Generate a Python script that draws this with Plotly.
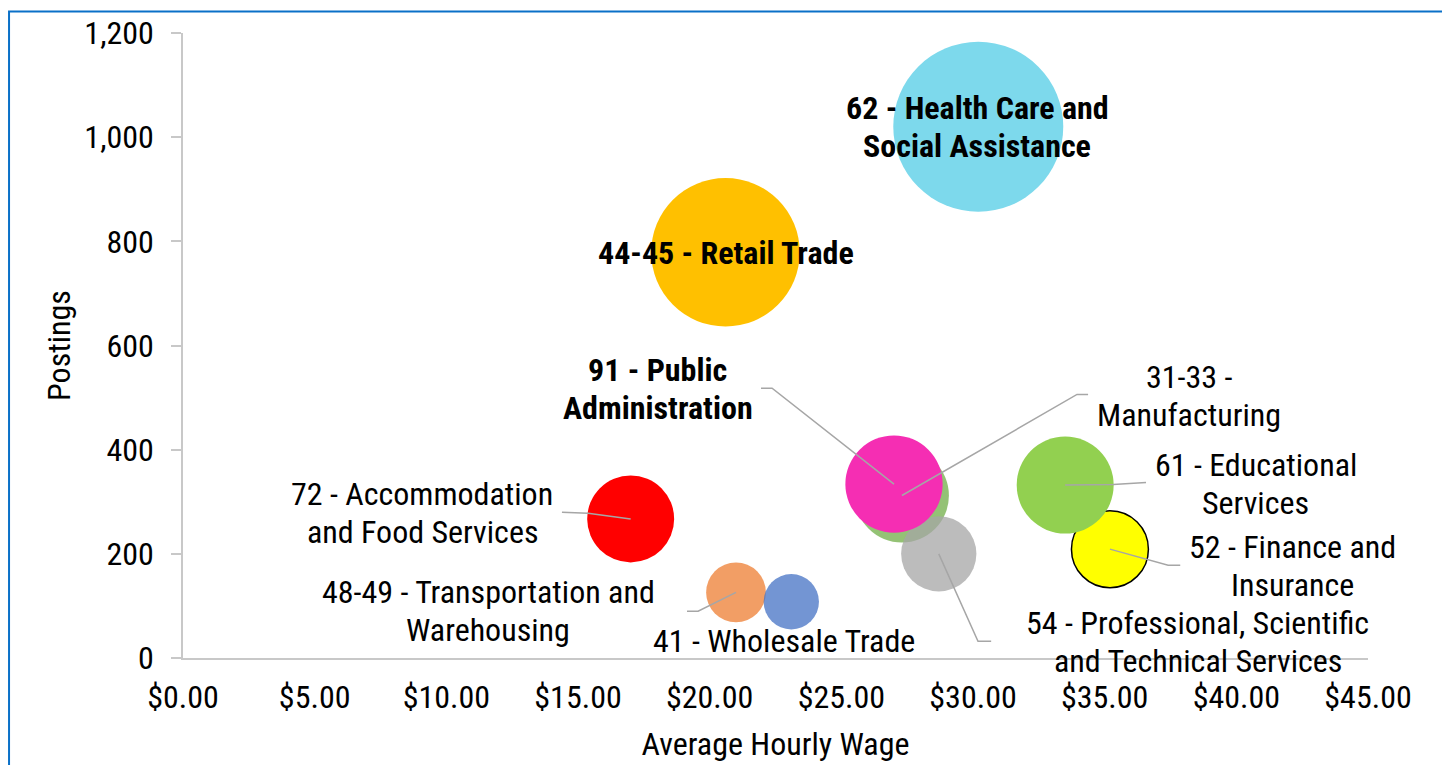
import plotly.graph_objects as go

# ---- data ----
industries = [
    "62 - Health Care and<br>Social Assistance",
    "44-45 - Retail Trade",
    "52 - Finance and<br>Insurance",
    "61 - Educational<br>Services",
    "31-33 -<br>Manufacturing",
    "54 - Professional, Scientific<br>and Technical Services",
    "91 - Public<br>Administration",
    "72 - Accommodation<br>and Food Services",
    "48-49 - Transportation and<br>Warehousing",
    "41 - Wholesale Trade",
]
avg_wage = [30.2, 20.6, 35.2, 33.5, 27.3, 28.7, 27.0, 17.0, 21.0, 23.1]
postings = [1020, 779, 209, 332, 312, 200, 334, 267, 126, 108]
bold = [True, True, False, False, False, False, True, False, False, False]

colors = ["#7DD9EC", "#FFC000", "#FFFF00", "#92D050", "rgba(112,173,71,0.75)",
          "rgba(165,165,165,0.75)", "#F52EB3", "#FF0000",
          "rgba(237,125,49,0.75)", "rgba(68,114,196,0.75)"]
outline = [0, 0, 1.5, 0, 0, 0, 0, 0, 0, 0]

# label anchor positions (data units) and leader-line elbows (None = no leader)
label_x = [30.16, 20.62, 42.12, 40.73, 38.21, 38.53, 18.02, 9.08, 11.60, 22.81]
label_y = [1019, 778, 176, 335, 504, 30, 516, 278, 90, 32]
leader_start = [None, None, (37.87, 178), (36.57, 337), (34.37, 506), (30.69, 32),
                (21.95, 518), (14.39, 280), (19.14, 90), None]
leader_elbow = [None, None, (37.41, 178), (35.32, 333), (33.95, 506), (30.19, 32),
                (22.37, 518), (15.38, 278), (19.56, 90), None]

FONT = "Roboto Condensed, Liberation Sans Narrow, Arial Narrow, DejaVu Sans Condensed, Roboto, sans-serif"
FS = 32
LINE_GAP = 38
max_diam = 170

fig = go.Figure()

fig.add_trace(go.Scatter(
    x=avg_wage, y=postings, mode="markers",
    marker=dict(size=postings, sizemode="area", sizeref=2 * max(postings) / max_diam ** 2,
                color=colors, line=dict(color="black", width=outline), opacity=1),
    hoverinfo="skip", showlegend=False,
))

# leader lines
for i in range(len(industries)):
    if leader_start[i] is None:
        continue
    xs = [leader_start[i][0], leader_elbow[i][0], avg_wage[i]]
    ys = [leader_start[i][1], leader_elbow[i][1], postings[i]]
    fig.add_trace(go.Scatter(x=xs, y=ys, mode="lines", line=dict(color="#A6A6A6", width=1.5),
                             hoverinfo="skip", showlegend=False))

# data labels, one annotation per text line for Excel-like line spacing
for i, name in enumerate(industries):
    lines = name.split("<br>")
    n = len(lines)
    for k, line in enumerate(lines):
        txt = f"<b>{line}</b>" if bold[i] else line
        fig.add_annotation(x=label_x[i], y=label_y[i], text=txt, showarrow=False,
                           xanchor="center", yanchor="middle", align="center",
                           yshift=((n - 1) / 2 - k) * LINE_GAP,
                           font=dict(family=FONT, size=FS, color="black"))

# chart border (extends past the visible page on right/bottom)
fig.add_shape(type="rect", xref="paper", yref="paper", x0=-0.1468, y0=-0.25, x1=1.2, y1=1.0344,
              line=dict(color="#0A70C8", width=2), layer="below")

fig.update_layout(
    width=1442, height=765,
    margin=dict(l=183, r=74, t=32.5, b=107.3, autoexpand=False),
    paper_bgcolor="white", plot_bgcolor="white",
    font=dict(family=FONT, size=FS, color="black"),
    xaxis=dict(range=[0, 45], dtick=5, tick0=0, tickprefix="$", tickformat=".2f", automargin=False,
               showline=True, linecolor="#C8C8C8", linewidth=1.5, showgrid=False, zeroline=False,
               ticks="", ticklabelstandoff=10,
               title=dict(text="Average Hourly Wage", standoff=17, font=dict(size=FS))),
    yaxis=dict(range=[0, 1200], dtick=200, tick0=0, tickformat=",", automargin=False,
               showline=True, linecolor="#C8C8C8", linewidth=1.5, showgrid=False, zeroline=False,
               ticks="outside", ticklen=10, tickcolor="#C8C8C8", tickwidth=1.5, ticklabelstandoff=11,
               title=dict(text="Postings", standoff=4, font=dict(size=FS))),
)

fig.write_html("out.html", config={"displayModeBar": False},
               post_script="document.body.style.margin='0px';")
